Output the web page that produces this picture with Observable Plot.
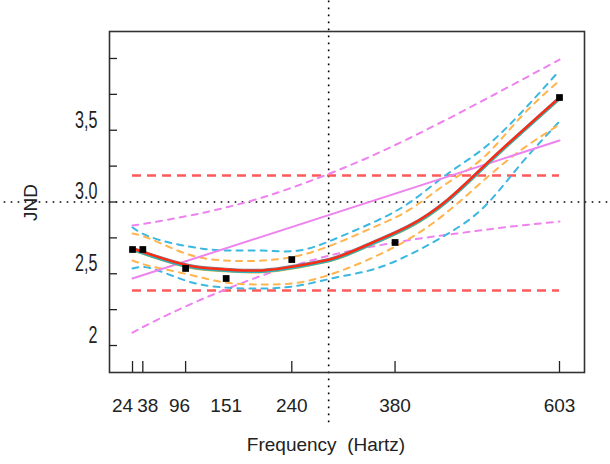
<!DOCTYPE html>
<html><head><meta charset="utf-8">
<script src="https://cdn.jsdelivr.net/npm/d3@7"></script>
<script src="https://cdn.jsdelivr.net/npm/@observablehq/plot@0.6"></script>
<style>body{margin:0;background:#fff}#chart{width:610px;height:464px}</style>
</head><body><div id="chart"></div>
<script>
// ---- data ----
const tickFreqs = [24, 38, 96, 151, 240, 380, 603];
const tickMarkFreqs = [24, 38, 96, 240, 380, 603];
const measuredJND = [2.669, 2.669, 2.537, 2.467, 2.599, 2.718, 3.728];
const yLabelValues = [2, 2.5, 3, 3.5];
const yLabels = ["2", "2,5", "3.0", "3,5"];
const yTickMarks = [2, 2.25, 2.5, 2.75, 3, 3.25, 3.5, 3.75, 4];

const curveFreq   = [24, 50, 100, 150, 200, 250, 300, 350, 400, 450, 500, 550, 603];
const mainFit     = [2.676, 2.631, 2.557, 2.530, 2.523, 2.557, 2.613, 2.718, 2.836, 3.010, 3.247, 3.484, 3.728];
const cyanUpper   = [2.822, 2.753, 2.690, 2.662, 2.662, 2.662, 2.746, 2.857, 2.997, 3.192, 3.373, 3.617, 3.916];
const cyanLower   = [2.537, 2.537, 2.446, 2.404, 2.397, 2.418, 2.474, 2.530, 2.634, 2.774, 2.962, 3.261, 3.561];
const orangeUpper = [2.780, 2.739, 2.634, 2.592, 2.592, 2.627, 2.711, 2.822, 2.948, 3.129, 3.310, 3.589, 3.847];
const orangeLower = [2.592, 2.551, 2.495, 2.439, 2.425, 2.439, 2.509, 2.613, 2.746, 2.927, 3.150, 3.359, 3.540];
const violetUpper = [2.836, 2.857, 2.904, 2.961, 3.031, 3.118, 3.216, 3.325, 3.446, 3.575, 3.709, 3.846, 3.992];
const violetLower = [2.090, 2.160, 2.282, 2.390, 2.488, 2.568, 2.638, 2.690, 2.735, 2.771, 2.805, 2.836, 2.864];
const linearFreq  = [24, 603];
const linearFit   = [2.467, 3.429];
const limitLines  = [3.185, 2.383];
const crossFreq = 290;
const crossJND = 3.0;
const xLabel = "Frequency\u00a0\u00a0(Hartz)";
const yLabel = "JND";

// ---- build ----
const series = vals => curveFreq.map((f, i) => ({f, v: vals[i]}));
const dashed = (vals, stroke) => Plot.line(series(vals), {x: "f", y: "v", curve: "natural", stroke, strokeWidth: 2, strokeDasharray: "6,6"});
const solid = (vals, stroke, w, dy = 0) => Plot.line(series(vals), {x: "f", y: "v", curve: "natural", stroke, strokeWidth: w, dy});
const points = tickFreqs.map((f, i) => ({f, v: measuredJND[i]}));
const yLabelMap = new Map(yLabelValues.map((v, i) => [v, yLabels[i]]));
const axisFont = "'Liberation Sans', Arial, sans-serif";
const xText = (vals, dx) => Plot.axisX(vals, {tickSize: 0, tickPadding: 26, dx, fontSize: 19, fontFamily: axisFont, fill: "#222", label: null});

const chart = Plot.plot({
  width: 610, height: 464,
  marginLeft: 109, marginRight: 26, marginTop: 31, marginBottom: 92,
  x: {domain: [-7.2, 636.9]},
  y: {domain: [1.812, 4.188]},
  style: {fontFamily: axisFont, color: "#222", background: "white"},
  marks: [
    Plot.ruleX([crossFreq], {y1: 4.40, y2: 1.44, stroke: "#000", strokeWidth: 1.6, strokeDasharray: "1.6,5.4"}),
    Plot.ruleY([crossJND], {x1: -150, x2: 672, stroke: "#000", strokeWidth: 1.6, strokeDasharray: "1.6,5.4"}),
    Plot.ruleY(limitLines, {x1: tickFreqs[0], x2: tickFreqs[tickFreqs.length - 1], stroke: "#ff5a5a", strokeWidth: 2.5, strokeDasharray: "9,6"}),
    dashed(violetUpper, "#ee82ee"),
    dashed(violetLower, "#ee82ee"),
    dashed(cyanUpper, "#3bb8e0"),
    dashed(cyanLower, "#3bb8e0"),
    dashed(orangeUpper, "#ffb44f"),
    dashed(orangeLower, "#ffb44f"),
    Plot.line(linearFreq.map((f, i) => ({f, v: linearFit[i]})), {x: "f", y: "v", stroke: "#ee82ee", strokeWidth: 2}),
    solid(mainFit, "#d8b040", 2.5, 1.6),
    solid(mainFit, "#2ab4c0", 3, 1),
    solid(mainFit, "#7a7f95", 1.2, -1.2),
    solid(mainFit, "#ff2a10", 2.4, 0),
    Plot.dot(points, {x: "f", y: "v", symbol: "square", r: 3.8, fill: "#000"}),
    Plot.frame({stroke: "#333", strokeWidth: 1.6}),
    Plot.axisX(tickMarkFreqs, {tickSize: -11, fill: "none", stroke: "#222", strokeWidth: 1.3, label: null}),
    Plot.axisY(yTickMarks, {tickSize: -8, fill: "none", stroke: "#222", strokeWidth: 1.3, label: null}),
    xText(tickFreqs.slice(0, 1), -10),
    xText(tickFreqs.slice(1, 2), 5),
    xText(tickFreqs.slice(2, 3), -6),
    xText(tickFreqs.slice(3), 0),
    Plot.axisY(yLabelValues, {tickSize: 0, tickPadding: 12, dy: -10, tickFormat: d => yLabelMap.get(d), fontSize: 23, fontFamily: axisFont, fill: "#222", label: null}),
    Plot.text([yLabel], {frameAnchor: "left", dx: -79, dy: 19, rotate: -90, fontSize: 19, fill: "#222"}),
    Plot.text([xLabel], {frameAnchor: "bottom", dx: -21, dy: 78, fontSize: 19, fill: "#222"})
  ]
});
// condense the y tick labels horizontally, as in the reference
d3.select(chart).selectAll('g[aria-label="y-axis tick label"] text').each(function () {
  const t = d3.select(this);
  const x = +t.attr("x") || 0;
  const tr = t.attr("transform") || "";
  t.attr("transform", `${tr} translate(${x},0) scale(0.7,1) translate(${-x},0)`);
});
document.getElementById("chart").append(chart);
</script>
</body></html>
